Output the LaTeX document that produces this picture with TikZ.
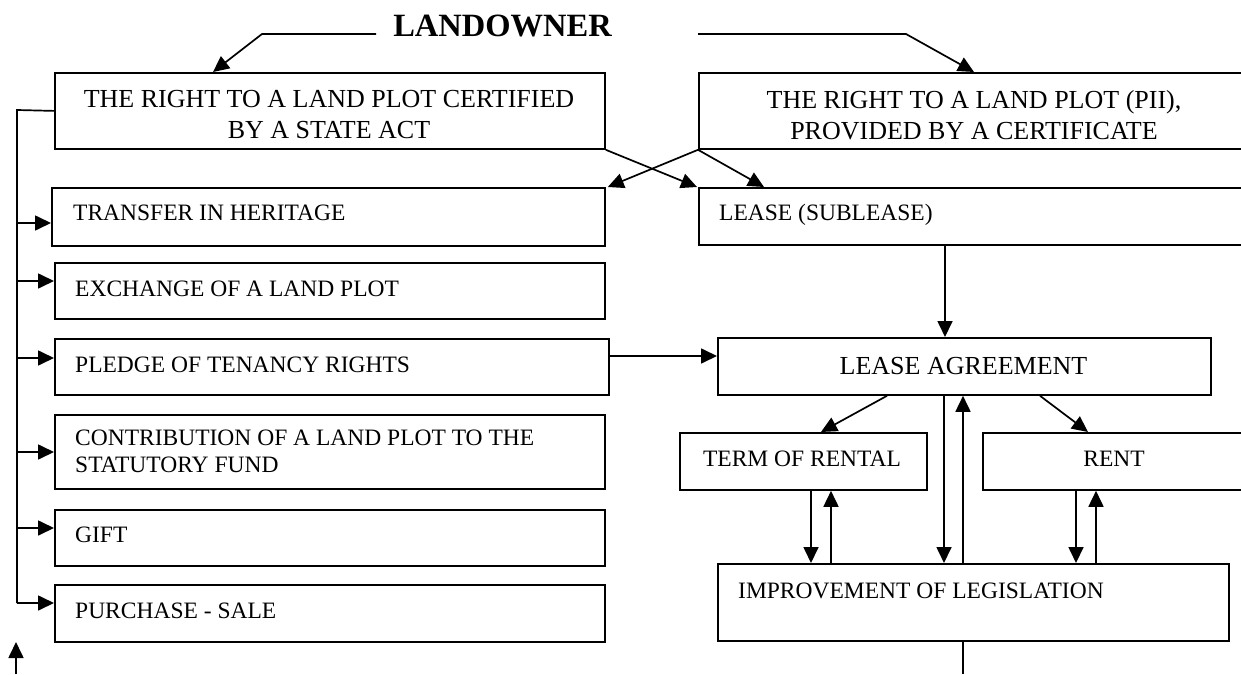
\documentclass[tikz,border=0pt]{standalone}
\usepackage{fontspec}
\setmainfont{Liberation Serif}
\usetikzlibrary{arrows.meta}
\newcommand\bx[5]{\node[box, minimum width={(#4-#2)*1pt}, minimum height={(#5-#3)*1pt}] (#1) at (#2,#3) {};}
\begin{document}
\begin{tikzpicture}[x=1pt,y=-1pt,
  box/.style={draw, line width=1.8pt, inner sep=0pt, anchor=north west},
  txt/.style={font=\fontsize{23.5}{27}\selectfont, inner sep=0pt},
  big/.style={font=\fontsize{26}{31}\selectfont, inner sep=0pt, align=center},
  ln/.style={line width=1.7pt},
  arr/.style={line width=1.7pt, -{Triangle[length=16pt,width=15pt]}}]
\useasboundingbox (0,0) rectangle (1241,674);
\clip (0,0) rectangle (1241,674);
% boxes
\bx{b1}{54}{72}{604}{148}
\bx{b2}{698}{72}{1262}{148}
\bx{tr}{51}{187}{604}{245}
\bx{ex}{54}{262}{604}{318}
\bx{pl}{54}{338}{608}{394}
\bx{co}{54}{414}{604}{488}
\bx{gi}{54}{509}{604}{565}
\bx{pu}{54}{584}{604}{641}
\bx{le}{698}{187}{1262}{244}
\bx{la}{717}{337}{1210}{394}
\bx{te}{679}{432}{926}{489}
\bx{re}{982}{432}{1262}{489}
\bx{im}{717}{563}{1228}{640}
% texts
\node[font=\bfseries\fontsize{32.5}{36}\selectfont, inner sep=0pt, anchor=base] (land) at (502.5,37) {LANDOWNER};
\node[big] (tb1) at (329,115) {THE RIGHT TO A LAND PLOT CERTIFIED\\BY A STATE ACT};
\node[big] (tb2) at (974,115) {THE RIGHT TO A LAND PLOT (PII),\\PROVIDED BY A CERTIFICATE};
\node[txt, anchor=base west] (ttr) at (73,220) {TRANSFER IN HERITAGE};
\node[txt, anchor=base west] (tex) at (75,296) {EXCHANGE OF A LAND PLOT};
\node[txt, anchor=base west] (tpl) at (75,372) {PLEDGE OF TENANCY RIGHTS};
\node[txt, anchor=west, align=left] (tco) at (75,451.5) {CONTRIBUTION OF A LAND PLOT TO THE\\STATUTORY FUND};
\node[txt, anchor=base west] (tgi) at (75,542) {GIFT};
\node[txt, anchor=base west] (tpu) at (75,618) {PURCHASE - SALE};
\node[txt, anchor=base west] (tle) at (719,220) {LEASE (SUBLEASE)};
\node[big, anchor=base] (tla) at (963.5,374.6) {LEASE AGREEMENT};
\node[txt, anchor=base] (tte) at (802,466) {TERM OF RENTAL};
\node[txt, anchor=base] (tre) at (1114,466) {RENT};
\node[txt, anchor=base west] (tim) at (738,598) {IMPROVEMENT OF LEGISLATION};
% free ends
\coordinate (ln1) at (376,34);
\coordinate (ln2) at (698,34);
\coordinate (bus) at (17,110);
\coordinate (end1) at (963,674);
\coordinate (s0) at (16,674);
\coordinate (s1) at (16,642);
% connectors
\draw[arr] (ln1) -- (262,34) -- ([xshift=159]b1.north west);
\draw[arr] (ln2) -- (906,34) -- ([xshift=276]b2.north west);
\draw[ln] (b1.west) -- (bus) -- (bus |- 0,603);
\draw[arr] (bus |- 0,223) -- (tr.west |- 0,223);
\draw[arr] (bus |- 0,281) -- (ex.west |- 0,281);
\draw[arr] (bus |- 0,358) -- (pl.west |- 0,358);
\draw[arr] (bus |- 0,452) -- (co.west |- 0,452);
\draw[arr] (bus |- 0,528) -- (gi.west |- 0,528);
\draw[arr] (bus |- 0,603) -- (pu.west |- 0,603);
\draw[arr] (b2.south west) -- ([xshift=2]tr.north east);
\draw[arr] (b2.south west) -- ([xshift=66]le.north west);
\draw[arr] (b1.south east) -- ([xshift=-1]le.north west);
\draw[arr] (le.south -| 945,0) -- (la.north -| 945,0);
\draw[arr] (pl.east |- 0,356) -- (la.west |- 0,356);
\draw[arr] (la.south -| 887,0) -- (te.north -| 821,0);
\draw[arr] (la.south -| 1040,0) -- (re.north -| 1088,0);
\draw[arr] (te.south -| 811,0) -- (im.north -| 811,0);
\draw[arr] (im.north -| 831,0) -- (te.south -| 831,0);
\draw[arr] (re.south -| 1076,0) -- (im.north -| 1076,0);
\draw[arr] (im.north -| 1096,0) -- (re.south -| 1096,0);
\draw[arr] (la.south -| 944,0) -- (im.north -| 944,0);
\draw[arr] (im.north -| 963,0) -- (la.south -| 963,0);
\draw[ln] (im.south -| 963,0) -- (end1);
\draw[arr] (s0) -- (s1);
\end{tikzpicture}
\end{document}
